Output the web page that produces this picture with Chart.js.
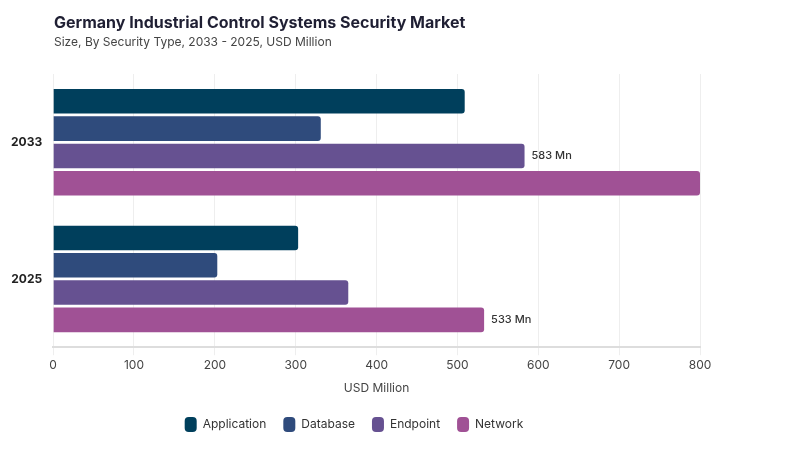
<!DOCTYPE html>
<html>
<head>
<meta charset="utf-8">
<script src="https://cdn.jsdelivr.net/npm/chart.js@4"></script>
<style>
  body { margin: 0; background: #fff; font-family: Inter, sans-serif; }
  #wrap { position: relative; width: 800px; height: 450px; }
  #title { position: absolute; left: 54px; top: 12px; font-size: 16px; font-weight: 700; color: #1f1f33; }
  #subtitle { position: absolute; left: 54px; top: 34px; font-size: 12px; color: #444; }
  canvas { position: absolute; left: 0; top: 0; }
</style>
</head>
<body>
<div id="wrap">
  <canvas id="chart" width="800" height="450"></canvas>
  <div id="title">Germany Industrial Control Systems Security Market</div>
  <div id="subtitle">Size, By Security Type, 2033 - 2025, USD Million</div>
</div>
<script>
const years = ['2033', '2025'];
const application = [509, 303];
const database = [331, 203];
const endpoint = [583, 365];
const network = [800, 533];
// which bars carry a value label: [dataset index, year index]
const labelled = [[2, 0], [3, 1]];

const colors = ['#003f5c', '#2f4b7c', '#665191', '#a05195'];

const valueLabels = {
    id: 'valueLabels',
    afterDatasetsDraw(chart) {
        const ctx = chart.ctx;
        ctx.save();
        ctx.font = '500 11px Inter';
        ctx.fillStyle = '#333';
        ctx.textBaseline = 'middle';
        labelled.forEach(function(p) {
            const bar = chart.getDatasetMeta(p[0]).data[p[1]];
            const v = chart.data.datasets[p[0]].data[p[1]];
            ctx.fillText(v + ' Mn', bar.x + 7, bar.y);
        });
        ctx.restore();
    }
};

new Chart(document.getElementById('chart'), {
    type: 'bar',
    data: {
        labels: years,
        datasets: [
            { label: 'Application', data: application, backgroundColor: colors[0] },
            { label: 'Database', data: database, backgroundColor: colors[1] },
            { label: 'Endpoint', data: endpoint, backgroundColor: colors[2] },
            { label: 'Network', data: network, backgroundColor: colors[3] }
        ]
    },
    options: {
        indexAxis: 'y',
        responsive: false,
        animation: false,
        layout: { padding: { top: 74, left: 8, right: 100, bottom: 8 } },
        datasets: {
            bar: { borderRadius: 3, categoryPercentage: 0.8, barPercentage: 0.9 }
        },
        scales: {
            x: {
                min: 0,
                max: 800,
                ticks: { stepSize: 100, color: '#444', font: { family: 'Inter', size: 12 } },
                grid: { color: '#eeeeee' },
                border: { color: '#dddddd', width: 2 },
                title: { display: true, text: 'USD Million', color: '#444', font: { family: 'Inter', size: 12 }, padding: { top: 6 } }
            },
            y: {
                ticks: { color: '#222', font: { family: 'Inter', size: 12, weight: 'bold' } },
                grid: { display: false },
                border: { display: false }
            }
        },
        plugins: {
            legend: {
                position: 'bottom',
                labels: {
                    boxWidth: 12,
                    boxHeight: 15,
                    useBorderRadius: true,
                    borderRadius: 4,
                    padding: 17,
                    color: '#333',
                    font: { family: 'Inter', size: 12 }
                }
            },
            tooltip: { enabled: false }
        }
    },
    plugins: [valueLabels]
});
</script>
</body>
</html>
